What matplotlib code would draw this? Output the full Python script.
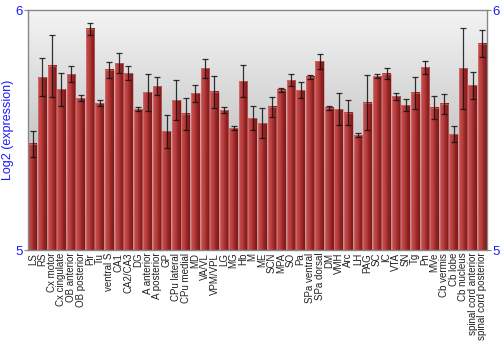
import numpy as np
import matplotlib
matplotlib.use("Agg")
import matplotlib.pyplot as plt
from matplotlib.colors import LinearSegmentedColormap

plt.rcParams['font.family'] = ['Liberation Sans', 'DejaVu Sans']

labels = ["LS", "RS", "Cx motor", "Cx cingulate", "OB anterior", "OB posterior", "Pir", "Tu",
          "ventral S", "CA1", "CA2/CA3", "DG", "A anterior", "A posterior", "GP", "CPu lateral",
          "CPu medial", "MD", "VA/VL", "VPM/VPL", "LG", "MG", "Hb", "M", "ME", "SCN", "MPA", "SO",
          "Pa", "SPa ventral", "SPa dorsal", "DM", "VMH", "Arc", "LH", "PAG", "SC", "IC", "VTA",
          "SN", "Tg", "Pn", "MVe", "Cb vermis", "Cb lobe", "Cb nucleus", "spinal cord anterior",
          "spinal cord posterior"]
values = [5.442, 5.720, 5.767, 5.670, 5.733, 5.633, 5.922, 5.612, 5.751, 5.779, 5.737, 5.586,
          5.657, 5.682, 5.494, 5.625, 5.568, 5.653, 5.757, 5.660, 5.583, 5.508, 5.703, 5.550,
          5.528, 5.596, 5.668, 5.708, 5.665, 5.721, 5.786, 5.592, 5.587, 5.572, 5.479, 5.614,
          5.725, 5.735, 5.640, 5.604, 5.655, 5.761, 5.592, 5.610, 5.483, 5.758, 5.686, 5.860]
errors = [0.054, 0.079, 0.129, 0.069, 0.035, 0.013, 0.025, 0.013, 0.034, 0.043, 0.030, 0.008,
          0.078, 0.038, 0.070, 0.085, 0.067, 0.035, 0.040, 0.067, 0.014, 0.007, 0.067, 0.052,
          0.063, 0.041, 0.008, 0.026, 0.033, 0.009, 0.032, 0.010, 0.068, 0.053, 0.007, 0.115,
          0.010, 0.022, 0.013, 0.026, 0.067, 0.028, 0.048, 0.042, 0.035, 0.169, 0.056, 0.056]

ymin, ymax = 5, 6
blue = '#1a1aff'

fig = plt.figure(figsize=(5, 3.5), dpi=100)
ax = fig.add_axes([0.056, 0.2857, 0.918, 0.6857])
n = len(labels)
x = np.arange(n)
ax.set_xlim(-0.5, n - 0.5)
ax.set_ylim(ymin, ymax)

# background vertical gradient
bg = LinearSegmentedColormap.from_list('bg', ['#a4a4a4', '#f4f4f4'])
grad = np.linspace(0, 1, 256).reshape(-1, 1)
ax.imshow(grad, extent=[-0.5, n - 0.5, ymin, ymax], origin='lower', cmap=bg,
          aspect='auto', zorder=0, interpolation='bicubic')

# bars with horizontal gradient
barcm = LinearSegmentedColormap.from_list('bar', ['#c84c4c', '#bc4242', '#962626', '#801818'])
hgrad = np.linspace(0, 1, 64).reshape(1, -1)
w = 0.9
for xi, v in zip(x, values):
    ax.imshow(hgrad, extent=[xi - w / 2, xi + w / 2, ymin, v], cmap=barcm,
              aspect='auto', zorder=1, interpolation='bilinear')
ax.bar(x, np.array(values) - ymin, bottom=ymin, width=w, facecolor='none',
       edgecolor='#d08080', linewidth=0.4, zorder=2)
ax.errorbar(x, values, yerr=errors, fmt='none', ecolor='#111111', elinewidth=0.9,
            capsize=2, capthick=0.9, alpha=0.85, zorder=3)

ax.set_xlim(-0.5, n - 0.5)
ax.set_ylim(ymin, ymax)

for s in ['left', 'right', 'top', 'bottom']:
    ax.spines[s].set_color('#888888')
    ax.spines[s].set_linewidth(1.0)

ax.set_xticks(x)
ax.set_xticklabels(labels, rotation=90, fontsize=7, color='#222222')
ax.tick_params(axis='x', length=0, pad=2)
ax.set_yticks([5, 6])
ax.set_yticklabels(['5', '6'], fontsize=9.5, color=blue)
ax.tick_params(axis='y', length=3, colors='#888888', labelcolor=blue, pad=1,
               left=True, right=True, labelleft=True, labelright=True)
ax.set_ylabel('Log2 (expression)', color=blue, fontsize=9, labelpad=1)

fig.savefig('out.png', dpi=100)
